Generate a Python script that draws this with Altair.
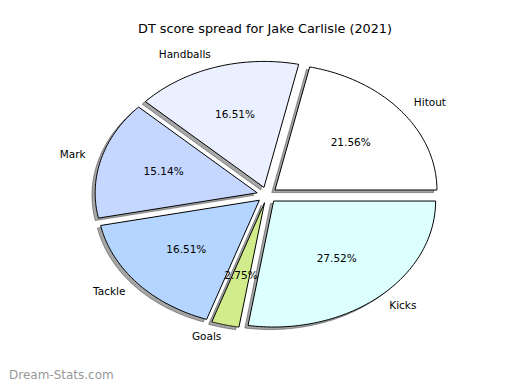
import altair as alt
import pandas as pd

# ---- data ----
labels = ["Hitout", "Handballs", "Mark", "Tackle", "Goals", "Kicks"]
dt_points = [47, 36, 33, 36, 6, 60]
colors = ["#ffffff", "#eaf0ff", "#c5d7ff", "#b4d5ff", "#d1ec8b", "#dcffff"]
title_text = "DT score spread for Jake Carlisle (2021)"
watermark = ["Dream-Stats.com"]

# ---- layout constants (pixels inside the plot area) ----
W, H = 504, 334
PAD_TOP = 40
CX, CY = 259, 147
RX, RY = 162, 126
EXPL = 0.063
SX, SY = -0.02 * RX, 0.02 * RY
N = 72
FONT = "DejaVu Sans"

df = pd.DataFrame({"label": labels, "pts": dt_points, "ord": list(range(len(labels)))})

xs = alt.Scale(domain=[0, W], nice=False, zero=False)
ys = alt.Scale(domain=[0, H], nice=False, zero=False, reverse=True)
fill_scale = alt.Scale(domain=labels, range=colors)

base = (
    alt.Chart(df)
    .transform_window(cum="sum(pts)", sort=[alt.SortField("ord")], frame=[None, 0])
    .transform_joinaggregate(total="sum(pts)")
    .transform_calculate(
        a0="2*PI*(datum.cum-datum.pts)/datum.total",
        a1="2*PI*datum.cum/datum.total",
    )
    .transform_calculate(mid="(datum.a0+datum.a1)/2")
    .transform_calculate(
        ox=f"{CX}+{EXPL*RX}*cos(datum.mid)",
        oy=f"{CY}-{EXPL*RY}*sin(datum.mid)",
        pct="format(100*datum.pts/datum.total, '.2f') + '%'",
    )
    .transform_calculate(
        lx=f"datum.ox+1.1*{RX}*cos(datum.mid)",
        ly=f"datum.oy-1.1*{RY}*sin(datum.mid)",
        qx=f"datum.ox+0.6*{RX}*cos(datum.mid)",
        qy=f"datum.oy-0.6*{RY}*sin(datum.mid)",
        side="cos(datum.mid) > 0 ? 1 : 0",
    )
)

geom = (
    base.transform_calculate(seq=f"sequence(0,{N+3})")
    .transform_flatten(["seq"], as_=["idx"])
    .transform_calculate(
        ang=f"datum.a0+(datum.idx-1)/{N}*(datum.a1-datum.a0)",
        isc=f"datum.idx==0 || datum.idx=={N+2}",
    )
    .transform_calculate(
        px=f"datum.isc ? datum.ox : datum.ox+{RX}*cos(datum.ang)",
        py=f"datum.isc ? datum.oy : datum.oy-{RY}*sin(datum.ang)",
    )
    .transform_calculate(sx=f"datum.px+{SX}", sy=f"datum.py+{SY}")
)

shadow = geom.mark_line(
    fill="#000000", fillOpacity=0.35, stroke="#000000", strokeOpacity=0.35,
    strokeWidth=1, strokeJoin="miter",
).encode(
    x=alt.X("sx:Q", scale=xs, axis=None),
    y=alt.Y("sy:Q", scale=ys, axis=None),
    detail="label:N",
    order=alt.Order("idx:Q"),
)

wedges = geom.mark_line(stroke="#000000", strokeWidth=1, strokeJoin="miter").encode(
    x=alt.X("px:Q", scale=xs, axis=None),
    y=alt.Y("py:Q", scale=ys, axis=None),
    detail="label:N",
    fill=alt.Fill("label:N", scale=fill_scale, legend=None),
    order=alt.Order("idx:Q"),
)

lab_right = base.transform_filter("datum.side == 1").mark_text(
    align="left", baseline="middle", font=FONT, fontSize=10.5, color="black"
).encode(x=alt.X("lx:Q", scale=xs), y=alt.Y("ly:Q", scale=ys), text="label:N")

lab_left = base.transform_filter("datum.side == 0").mark_text(
    align="right", baseline="middle", font=FONT, fontSize=10.5, color="black"
).encode(x=alt.X("lx:Q", scale=xs), y=alt.Y("ly:Q", scale=ys), text="label:N")

pcts = base.mark_text(
    align="center", baseline="middle", font=FONT, fontSize=10.5, color="black"
).encode(x=alt.X("qx:Q", scale=xs), y=alt.Y("qy:Q", scale=ys), text="pct:N")

wm = alt.Chart(pd.DataFrame({"t": watermark})).mark_text(
    align="left", baseline="bottom", font=FONT, fontSize=12, color="#999999"
).encode(x=alt.value(1), y=alt.value(H), text="t:N")

chart = (
    alt.layer(shadow, wedges, lab_right, lab_left, pcts, wm)
    .properties(
        width=W,
        height=H,
        padding={"top": PAD_TOP, "left": 0, "right": 0, "bottom": 0},
        autosize=alt.AutoSizeParams(type="none"),
        title=alt.TitleParams(
            title_text, font=FONT, fontSize=12.8, fontWeight="normal",
            color="black", offset=12, dx=5, anchor="middle",
        ),
    )
    .configure_view(strokeWidth=0)
)

chart.save("out.html", embed_options={"renderer": "svg", "actions": False})
